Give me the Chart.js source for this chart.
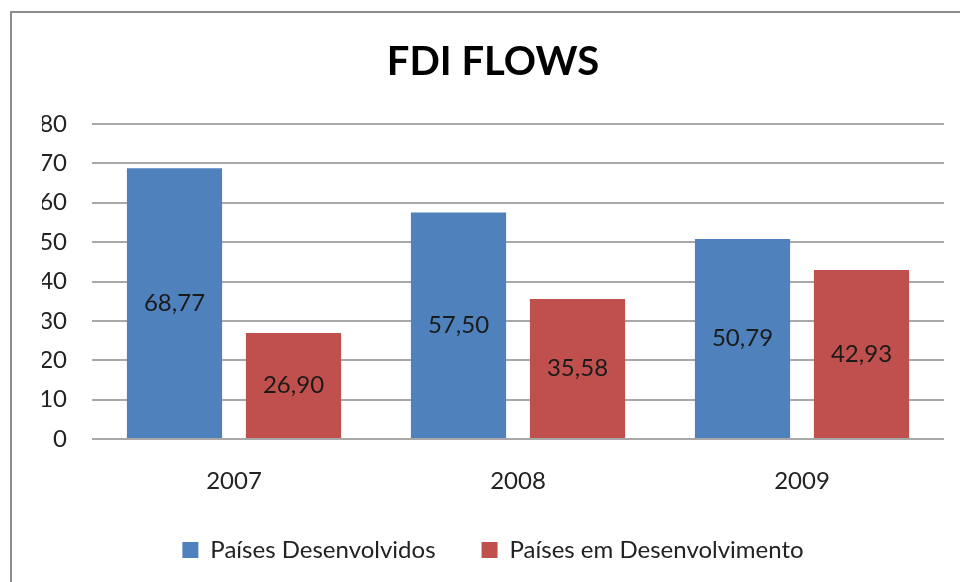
<!DOCTYPE html>
<html>
<head>
<meta charset="utf-8">
<script src="https://cdn.jsdelivr.net/npm/chart.js@4/dist/chart.umd.min.js"></script>
<style>
    html, body { margin: 0; padding: 0; background: #fff; overflow: hidden; }
    #frame {
        position: absolute;
        left: 10px;
        top: 11px;
        width: 1000px;
        height: 620px;
        border: 2px solid #8c8c8c;
        background: #fff;
    }
    #chart { display: block; }
</style>
</head>
<body>
<div id="frame">
    <canvas id="chart" width="962" height="569"></canvas>
</div>
<script>
// Chart data
const years = ['2007', '2008', '2009'];
const developed = [68.77, 57.50, 50.79];
const developing = [26.90, 35.58, 42.93];
const yTicks = [0, 10, 20, 30, 40, 50, 60, 70, 80];

const seriesNames = ['Países Desenvolvidos', 'Países em Desenvolvimento'];
const seriesColors = ['#4f81bd', '#c0504d'];

const FONT = 'Lato, "Open Sans", sans-serif';
const TEXT = '#222222';

// Values written in the middle of each bar, with a comma decimal
const barValueLabels = {
    id: 'barValueLabels',
    afterDatasetsDraw(chart) {
        const ctx = chart.ctx;
        ctx.save();
        ctx.font = '24px ' + FONT;
        ctx.fillStyle = '#1a1a1a';
        ctx.textAlign = 'center';
        ctx.textBaseline = 'middle';
        chart.data.datasets.forEach((ds, i) => {
            const meta = chart.getDatasetMeta(i);
            meta.data.forEach((bar, j) => {
                const text = ds.data[j].toFixed(2).replace('.', ',');
                ctx.fillText(text, bar.x, (bar.y + bar.base) / 2);
            });
        });
        ctx.restore();
    }
};

new Chart(document.getElementById('chart'), {
    type: 'bar',
    data: {
        labels: years,
        datasets: [
            {
                label: seriesNames[0],
                data: developed,
                backgroundColor: seriesColors[0],
                borderWidth: 0,
                barPercentage: 0.8,
                categoryPercentage: 0.838
            },
            {
                label: seriesNames[1],
                data: developing,
                backgroundColor: seriesColors[1],
                borderWidth: 0,
                barPercentage: 0.8,
                categoryPercentage: 0.838
            }
        ]
    },
    options: {
        responsive: false,
        animation: false,
        layout: {
            padding: { top: 25, right: 30, bottom: 10, left: 30 }
        },
        plugins: {
            title: {
                display: true,
                text: 'FDI FLOWS',
                color: '#000',
                font: { family: FONT, size: 40, weight: 'bold' },
                padding: { top: 0, bottom: 38 }
            },
            legend: {
                position: 'bottom',
                labels: {
                    boxWidth: 16,
                    boxHeight: 16,
                    padding: 46,
                    color: TEXT,
                    font: { family: FONT, size: 24 }
                }
            },
            tooltip: { enabled: false }
        },
        scales: {
            x: {
                grid: { display: false },
                border: { display: false },
                ticks: {
                    color: TEXT,
                    padding: 20,
                    font: { family: FONT, size: 24 }
                },
                afterFit(scale) { scale.height = 53; }
            },
            y: {
                min: yTicks[0],
                max: yTicks[yTicks.length - 1],
                grid: { color: '#a8a8a8', lineWidth: 2, drawTicks: false },
                border: { display: false },
                ticks: {
                    stepSize: 10,
                    color: TEXT,
                    padding: 25,
                    font: { family: FONT, size: 24 }
                },
                afterFit(scale) { scale.width = 50; }
            }
        }
    },
    plugins: [barValueLabels]
});
</script>
</body>
</html>
